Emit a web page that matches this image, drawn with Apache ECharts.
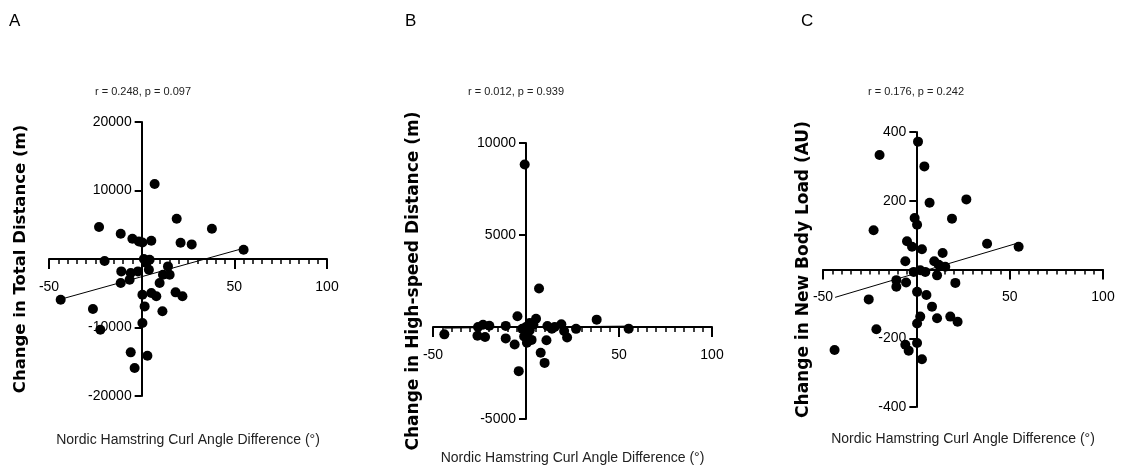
<!DOCTYPE html>
<html>
<head>
<meta charset="utf-8">
<script src="https://cdn.jsdelivr.net/npm/echarts@6/dist/echarts.min.js"></script>
<style>
html,body{margin:0;padding:0;background:#fff;}
#chart{width:1125px;height:473px;}
</style>
</head>
<body>
<div id="chart"></div>
<script>
// ---- Data ----
const panelLetters = ['A', 'B', 'C'];
const statTexts = ['r = 0.248, p = 0.097', 'r = 0.012, p = 0.939', 'r = 0.176, p = 0.242'];
const xTitle = 'Nordic Hamstring Curl Angle Difference (°)';
const yTitles = ['Change in Total Distance (m)', 'Change in High-speed Distance (m)', 'Change in New Body Load (AU)'];

const aX = [7.0, -23.0, -11.3, -5.0, -1.5, 0.4, 5.2, 18.9, 21.0, 27.0, 37.9, 55.0, -20.0, 1.2, 4.3, 2.5, -11.0, -11.3, -5.9, -6.5, -2.0, 3.9, -43.7, -26.3, -22.3, 0.4, 1.6, 0.4, 5.2, 7.9, 11.2, 9.7, 11.5, 14.2, 15.1, 18.3, 22.0, -5.9, -3.8, 3.1];
const aY = [10950, 4670, 3690, 2960, 2570, 2420, 2670, 5880, 2380, 2130, 4420, 1360, -290, 0, -100, -580, -1810, -3500, -2040, -3020, -1810, -1560, -5940, -7300, -10320, -5210, -6920, -9350, -4960, -5450, -7640, -3500, -2290, -1080, -2290, -4870, -5450, -13630, -15910, -14120];

const bX = [-0.7, 7.0, -43.9, -26.1, -25.8, -23.1, -22.0, -19.7, -10.9, -10.9, -6.1, -4.6, -3.9, 0, 1, 2, -1, 3, 4, 2, -2, 0.5, 5.4, 7.9, 10.0, 11.0, 11.5, 13.9, 15.4, 19.0, 20.5, 22.1, 26.9, 38.0, 55.2];
const bY = [8830, 2090, -400, -480, 0, 120, -540, 70, 60, -620, -950, 580, -2400, 0, -300, 220, -520, -700, 120, -180, -100, -850, 450, -1400, -1950, -720, 50, -90, 0, 150, -220, -570, -100, 400, -90];

const cX = [0.9, -19.7, 4.3, 7.1, 26.8, -0.9, 0.4, 19.1, -22.9, -5.0, -2.3, 3.0, 37.9, 54.8, 14.1, -5.9, 9.6, 12.0, 15.5, -1.4, 2.1, 4.8, 11.1, 20.9, -10.7, -10.7, -5.5, -25.5, 0.4, 5.4, 8.4, 11.1, 18.2, 22.1, 2.1, 0.4, -21.4, 0.4, -5.9, -4.1, 3.0, -43.8];
const cY = [372, 333, 300, 194, 204, 150, 130, 148, 114, 82, 66, 59, 75, 66, 48, 24, 24, 14, 8, -7, -2, -7, -17, -39, -31, -50, -38, -87, -65, -74, -108, -142, -137, -152, -137, -157, -174, -214, -219, -236, -261, -234];

// regression line end points
const fitAX = [-44, 55.5], fitAY = [-5900, 1600];
const fitBX = [-44, 55.2], fitBY = [-60, 50];
const fitCX = [-43.5, 55], fitCY = [-81, 78];

// axis ranges / ticks
const xMin = -50, xMax = 100, xStep = 50;
const yRanges = [[-20000, 20000, 10000], [-5000, 10000, 5000], [-400, 400, 200]];

// ---- Build ----
const zip = (xs, ys) => xs.map((x, i) => [x, ys[i]]);
const pts = [zip(aX, aY), zip(bX, bY), zip(cX, cY)];
const fits = [zip(fitAX, fitAY), zip(fitBX, fitBY), zip(fitCX, fitCY)];

const grids = [
  {left: 49, top: 122, width: 278, height: 274},
  {left: 433, top: 143, width: 279, height: 276},
  {left: 823, top: 132, width: 280, height: 275}
];
const yNameGap = [112, 104, 104];
const xNameGap = [174, 124, 163];
const yNameSize = [16.5, 17, 17];
const letterPos = [9, 405, 801];
const statPos = [95, 468, 868];

const sans = "'Liberation Sans', Arial, sans-serif";
const hideZero = v => (v === 0 ? '' : String(v));

// Offsets so that each axis crosses the other at zero (labels follow the line)
function zeroOffsets(g, yr) {
  const xOff = -(g.width * (0 - xMin) / (xMax - xMin));
  const yOff = -(g.height * (0 - yr[0]) / (yr[1] - yr[0]));
  return {xOff, yOff};
}

const option = {
  animation: false,
  backgroundColor: '#fff',
  title: [],
  grid: grids.map(g => Object.assign({containLabel: false, outerBoundsMode: 'none'}, g)),
  xAxis: [],
  yAxis: [],
  series: []
};

for (let i = 0; i < 3; i++) {
  const off = zeroOffsets(grids[i], yRanges[i]);
  option.title.push({
    text: panelLetters[i], left: letterPos[i], top: 13, padding: 0,
    textStyle: {fontFamily: sans, fontSize: 17, fontWeight: 'normal', color: '#000'}
  });
  option.title.push({
    text: statTexts[i], left: statPos[i], top: 86, padding: 0,
    textStyle: {fontFamily: sans, fontSize: 11, fontWeight: 'normal', color: '#222'}
  });
  option.xAxis.push({
    type: 'value', gridIndex: i, min: xMin, max: xMax, interval: xStep,
    position: 'bottom', offset: off.yOff,
    name: xTitle, nameLocation: 'middle', nameGap: xNameGap[i],
    nameTextStyle: {fontFamily: sans, fontSize: 14, color: '#222'},
    axisLine: {onZero: false, lineStyle: {color: '#000', width: 2}},
    axisTick: {show: true, length: 10, lineStyle: {color: '#000', width: 2}},
    minorTick: {show: true, splitNumber: 10, length: 5, lineStyle: {color: '#000', width: 1.5}},
    axisLabel: {margin: 21, fontFamily: sans, fontSize: 14, color: '#000', formatter: hideZero},
    splitLine: {show: false}, minorSplitLine: {show: false}
  });
  option.yAxis.push({
    type: 'value', gridIndex: i, min: yRanges[i][0], max: yRanges[i][1], interval: yRanges[i][2],
    position: 'left', offset: off.xOff,
    name: yTitles[i], nameLocation: 'middle', nameGap: yNameGap[i], nameRotate: 90,
    nameTextStyle: {fontFamily: "'DejaVu Sans', sans-serif", fontWeight: 'bold', fontSize: yNameSize[i], color: '#000'},
    axisLine: {onZero: false, lineStyle: {color: '#000', width: 2}},
    axisTick: {show: true, length: 7, lineStyle: {color: '#000', width: 2}},
    axisLabel: {margin: 10, fontFamily: sans, fontSize: 14, color: '#000', formatter: hideZero},
    splitLine: {show: false}
  });
  option.series.push({
    type: 'line', xAxisIndex: i, yAxisIndex: i, data: fits[i],
    symbol: 'none', lineStyle: {color: '#000', width: 1}, z: 2
  });
  option.series.push({
    type: 'scatter', xAxisIndex: i, yAxisIndex: i, data: pts[i],
    symbol: 'circle', symbolSize: 10, itemStyle: {color: '#000', opacity: 1}, z: 3
  });
}

const chart = echarts.init(document.getElementById('chart'), null, {renderer: 'canvas'});
chart.setOption(option);
</script>
</body>
</html>
